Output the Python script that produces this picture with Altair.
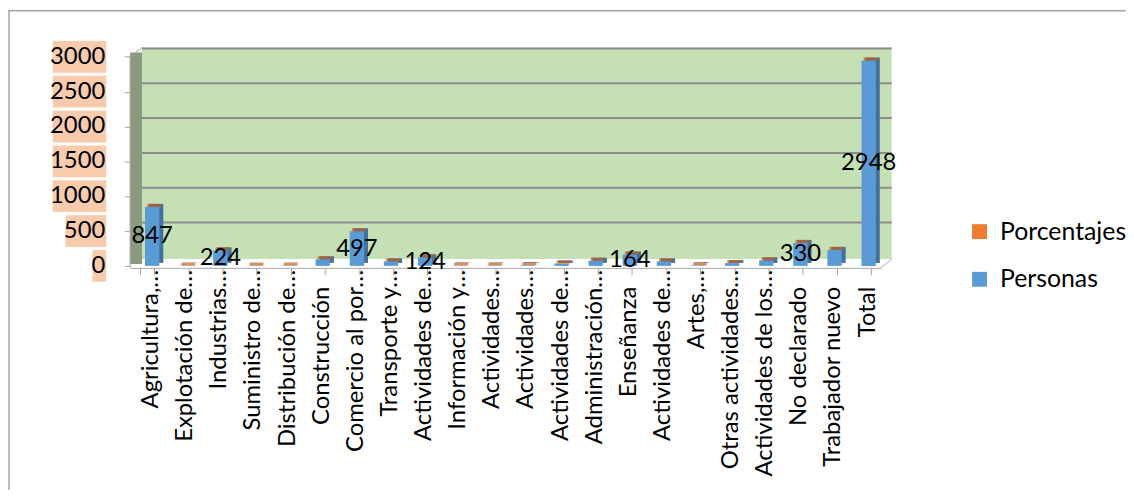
import altair as alt
import pandas as pd

categories = ["Agricultura,…", "Explotación de…", "Industrias…", "Suministro de…",
              "Distribución de…", "Construcción", "Comercio al por…", "Transporte y…",
              "Actividades de…", "Información y…", "Actividades…", "Actividades…",
              "Actividades de…", "Administración…", "Enseñanza", "Actividades de…",
              "Artes,…", "Otras actividades…", "Actividades de los…", "No declarado",
              "Trabajador nuevo", "Total"]
personas = [847, 3, 224, 2, 3, 95, 497, 65, 124, 5, 5, 10, 35, 75, 164, 65, 8, 40, 80, 330, 230, 2948]
porcentajes = [0.287, 0.001, 0.076, 0.001, 0.001, 0.032, 0.169, 0.022, 0.042, 0.002, 0.002,
               0.003, 0.012, 0.025, 0.056, 0.022, 0.003, 0.014, 0.027, 0.112, 0.078, 1.0]
shown_labels = ["847", "", "224", "", "", "", "497", "", "124", "", "", "", "", "", "164",
                "", "", "", "", "330", "", "2948"]
y_ticks = [0, 500, 1000, 1500, 2000, 2500, 3000]
y_tick_labels = ["0", "500", "1000", "1500", "2000", "2500", "3000"]
series_names = ["Porcentajes", "Personas"]
series_colors = ["#ED7D31", "#5B9BD5"]

W, H = 756, 220
YMAX = 3135
FONT = "Lato"

wide = pd.DataFrame({"idx": list(range(len(categories))), "cat": categories,
                     "personas": personas, "pct": porcentajes, "label": shown_labels,
                     "val": personas,
                     "cut": [c.endswith("…") for c in categories]})
long = pd.concat([
    pd.DataFrame({"idx": wide["idx"], "series": "Personas", "value": personas, "ord": 0}),
    pd.DataFrame({"idx": wide["idx"], "series": "Porcentajes", "value": porcentajes, "ord": 1}),
])
ticks_df = pd.DataFrame({"t": y_ticks, "tl": y_tick_labels,
                         "n": [len(s) for s in y_tick_labels]})
one = pd.DataFrame({"a": [0]})

yscale = alt.Scale(domain=[0, YMAX], nice=False, zero=True)
yaxis = alt.Axis(title=None, labels=False, values=y_ticks, domain=False,
                 tickSize=6, tickColor="#A6A6A6", grid=False)
xscale = alt.Scale(paddingInner=0.58, paddingOuter=0.29)
xaxis = alt.Axis(title=None, labels=False, tickBand="extent", tickSize=7,
                 tickColor="#A6A6A6", domainColor="#A6A6A6", offset=2, grid=False)
X = alt.X("idx:O", scale=xscale, axis=xaxis)


def Y(field):
    return alt.Y(field, scale=yscale, axis=yaxis)


border = alt.Chart(one).mark_rect(fillOpacity=0, stroke="#A6A6A6", strokeWidth=1.5).encode(
    x=alt.value(-122), x2=alt.value(1050), y=alt.value(-37), y2=alt.value(480))
wall = alt.Chart(one).mark_rect(color="#C5E0B4").encode(
    x=alt.value(12), x2=alt.value(767), y=alt.value(0), y2=alt.value(213))
side_wall = alt.Chart(one).mark_rect(color="#8A9A7F").encode(
    x=alt.value(0), x2=alt.value(12), y=alt.value(5), y2=alt.value(218))
grid = alt.Chart(ticks_df).transform_filter("datum.t > 0").mark_rule(
    color="#8C8C8C", strokeWidth=2, yOffset=-8.5).encode(
    y=Y("t:Q"), x=alt.value(12), x2=alt.value(767))
left_edge = alt.Chart(one).mark_rule(color="#A6A6A6").encode(
    x=alt.value(0), y=alt.value(9.5), y2=alt.value(222))
top_diag = alt.Chart(one).mark_rule(color="#A6A6A6").encode(
    x=alt.value(0), y=alt.value(9.5), x2=alt.value(12), y2=alt.value(0))
floor_diag = alt.Chart(one).mark_rule(color="#A6A6A6").encode(
    x=alt.value(756), y=alt.value(222), x2=alt.value(767), y2=alt.value(213))

side = alt.Chart(wide).mark_bar(color="#41719C", xOffset=9, yOffset=-3).encode(
    x=X, y=Y("personas:Q"))
front = alt.Chart(long).mark_bar(xOffset=5).encode(
    x=X,
    y=alt.Y("value:Q", stack="zero", scale=yscale, axis=yaxis),
    color=alt.Color("series:N", scale=alt.Scale(domain=series_names, range=series_colors),
                    legend=alt.Legend(title=None, orient="none", legendX=843, legendY=173,
                                      labelFont=FONT, labelFontSize=25, labelColor="black",
                                      symbolType="square", symbolSize=225,
                                      symbolStrokeWidth=0, rowPadding=22, labelOffset=8,
                                      direction="vertical")),
    order=alt.Order("ord:Q"))
caps = alt.Chart(wide).mark_tick(color="#C5601E", thickness=3, size=14, xOffset=7,
                                 yOffset=-1.5).encode(x=X, y=Y("personas:Q"))
labels = alt.Chart(wide).transform_filter("datum.label != ''").transform_calculate(
    mid="datum.val / 2").mark_text(font=FONT, fontSize=24, color="black", xOffset=5).encode(
    x=X, y=Y("mid:Q"), text="label:N")

# category labels: truncated ones let their ellipsis reach closer to the axis
cat_cut = alt.Chart(wide).transform_filter("datum.cut").mark_text(
    font=FONT, fontSize=24, color="black", angle=270, align="right", baseline="middle",
    xOffset=4).encode(x=X, y=alt.value(224), text="cat:N")
cat_full = alt.Chart(wide).transform_filter("!datum.cut").mark_text(
    font=FONT, fontSize=24, color="black", angle=270, align="right", baseline="middle",
    xOffset=4).encode(x=X, y=alt.value(241), text="cat:N")

box_layers = []
for n, w in [(1, 14), (3, 41), (4, 54)]:
    box_layers.append(
        alt.Chart(ticks_df).transform_filter(f"datum.n == {n}").transform_calculate(
            lo="datum.t - 228", hi="datum.t + 228").mark_rect(color="#F8CBAD").encode(
            y=Y("lo:Q"), y2="hi:Q",
            x=alt.value(-24 - w), x2=alt.value(-24)))
tick_text = alt.Chart(ticks_df).mark_text(font=FONT, fontSize=24, color="black",
                                          align="right", baseline="middle").encode(
    y=Y("t:Q"), x=alt.value(-25), text="tl:N")

chart = alt.layer(border, wall, side_wall, grid, left_edge, top_diag, floor_diag,
                  side, front, caps, labels, cat_cut, cat_full, *box_layers,
                  tick_text).properties(
    width=W, height=H,
    autosize=alt.AutoSizeParams(type="none"),
    padding={"left": 123, "top": 38, "right": 247, "bottom": 224},
    background="white",
).configure_view(stroke=None)

chart.save("out.html", embed_options={"renderer": "svg", "actions": False})
